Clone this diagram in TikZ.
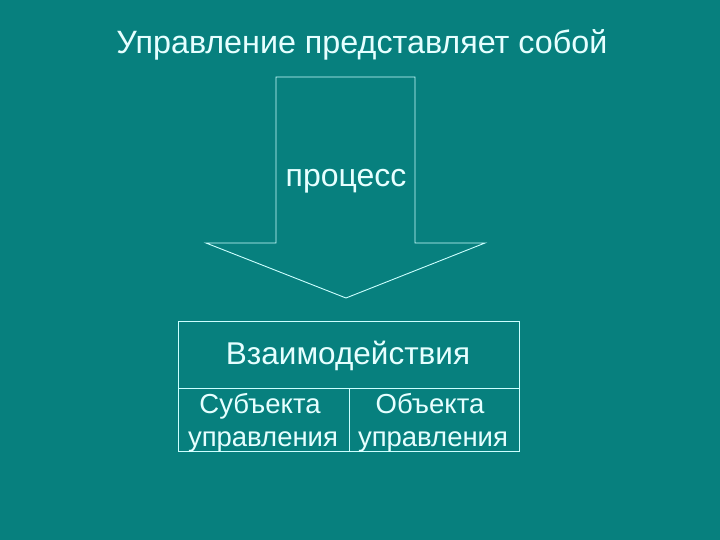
\documentclass[tikz,border=0pt]{standalone}
\usepackage{fontspec}
\setmainfont{Liberation Sans}
\definecolor{bg}{HTML}{07807E}
\definecolor{fg}{HTML}{E6FFFF}
\definecolor{ln}{HTML}{CCFFFF}
\begin{document}
\begin{tikzpicture}[x=1pt,y=-1pt,
  txt/.style={text=fg,inner sep=0pt,anchor=base},
  shp/.style={draw=ln,line width=0.9pt}]
\fill[bg] (0,0) rectangle (720,540);
\useasboundingbox (0,0) rectangle (720,540);
% title
\node[txt,font=\fontsize{32.3}{32}\selectfont] (title) at (362,54) {Управление представляет собой};
% arrow
\coordinate (tl) at (276,77);
\coordinate (tr) at (415,77);
\coordinate (tip) at (346,298);
\draw[shp] (tl) -- (tr) -- (415,243) -- (485,243) -- (tip) -- (206,243) -- (276,243) -- cycle;
\node[txt,font=\fontsize{32}{32}\selectfont] (proc) at (346,187) {процесс};
% table
\draw[shp] (178,321) rectangle (519,451);
\draw[shp] (178,388) -- (519,388);
\draw[shp] (349,388) -- (349,451);
\node[txt,font=\fontsize{31.5}{31}\selectfont] (vz) at (348,364) {Взаимодействия};
\node[txt,font=\fontsize{27.5}{27}\selectfont] (s1) at (260,413) {Субъекта};
\node[txt,font=\fontsize{27.5}{27}\selectfont] (s2) at (263,446) {управления};
\node[txt,font=\fontsize{27.5}{27}\selectfont] (o1) at (430,413) {Объекта};
\node[txt,font=\fontsize{27.5}{27}\selectfont] (o2) at (433,446) {управления};
\end{tikzpicture}
\end{document}
